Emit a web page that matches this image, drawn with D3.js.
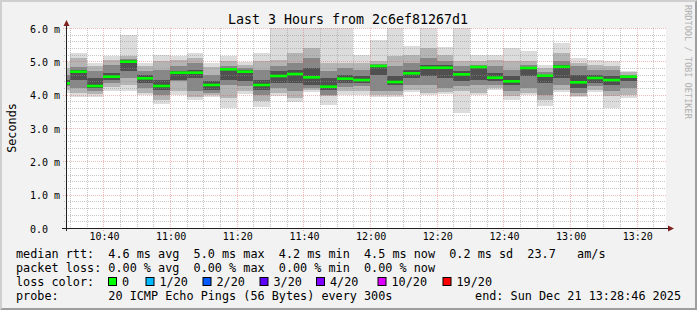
<!DOCTYPE html>
<html><head><meta charset="utf-8">
<script src="https://cdn.jsdelivr.net/npm/d3@7"></script>
<style>
html,body{margin:0;padding:0;background:#f2f2f2;}
svg{display:block;}
text{font-family:"DejaVu Sans Mono",monospace;white-space:pre;}
</style></head><body>
<svg id="c" width="697" height="310"></svg>
<script>
// ---------------- DATA ----------------
const startTime = "10:28:46";
const endTime   = "13:28:46";
// 5-minute slots (start of each slot); the first one is partly before the window
const slotStart = ["10:25","10:30","10:35","10:40","10:45","10:50","10:55","11:00","11:05","11:10",
                   "11:15","11:20","11:25","11:30","11:35","11:40","11:45","11:50","11:55","12:00",
                   "12:05","12:10","12:15","12:20","12:25","12:30","12:35","12:40","12:45","12:50",
                   "12:55","13:00","13:05","13:10","13:15"];
// median rtt (ms)
const median = [4.34,4.69,4.26,4.54,4.99,4.49,4.26,4.66,4.66,4.29,
                 4.76,4.69,4.29,4.56,4.62,4.52,4.24,4.48,4.44,4.86,
                 4.38,4.64,4.81,4.81,4.61,4.83,4.51,4.40,4.80,4.57,
                 4.84,4.37,4.50,4.44,4.54];
// smoke: sorted ping spread (ms), outer to inner
const pMin   = [4.04,3.94,3.94,4.12,4.12,3.98,3.73,3.98,3.85,3.93,
                3.59,4.03,3.64,3.96,3.79,4.09,3.69,3.99,3.98,3.92,
                3.94,4.08,3.99,4.03,3.46,3.98,4.14,3.84,3.98,3.66,
                4.08,3.92,4.09,3.59,3.89];
const pLow1  = [4.15,4.04,4.02,4.22,4.30,4.05,3.85,4.10,3.92,3.98,
                3.90,4.10,3.80,4.05,3.90,4.15,3.95,4.12,4.10,4.00,
                4.00,4.15,4.05,4.08,4.10,4.05,4.20,3.95,4.05,3.85,
                4.15,3.97,4.15,3.95,4.00];
const pLow2  = [4.25,4.19,4.10,4.35,4.50,4.20,4.00,4.40,4.10,4.05,
                4.30,4.25,4.00,4.20,4.10,4.20,4.00,4.24,4.25,4.10,
                4.10,4.30,4.30,4.20,4.25,4.30,4.30,4.10,4.20,4.00,
                4.30,4.05,4.25,4.10,4.20];
const pLow3  = [4.30,4.44,4.20,4.45,4.72,4.35,4.15,4.45,4.50,4.15,
                4.45,4.40,4.15,4.35,4.35,4.30,4.15,4.34,4.35,4.60,
                4.30,4.50,4.55,4.50,4.40,4.45,4.40,4.30,4.55,4.35,
                4.50,4.20,4.35,4.30,4.40];
const pHigh3 = [4.45,4.74,4.50,4.65,5.03,4.60,4.45,4.72,4.75,4.40,
                4.80,4.73,4.45,4.70,4.75,4.80,4.50,4.60,4.55,4.88,
                4.55,4.75,4.90,4.88,4.70,4.86,4.65,4.55,4.83,4.60,
                4.90,4.60,4.60,4.55,4.57];
const pHigh2 = [4.60,4.84,4.70,4.90,5.08,4.70,4.75,4.85,4.95,4.60,
                4.87,4.80,4.75,4.85,4.95,5.10,4.70,4.79,4.75,4.92,
                4.85,4.95,5.10,5.00,4.85,4.90,4.85,4.75,4.88,4.68,
                5.00,4.85,4.75,4.75,4.60];
const pHigh1 = [4.80,5.09,4.85,5.05,5.15,4.85,5.00,5.05,5.10,4.82,
                5.00,4.90,5.00,5.05,5.25,5.40,4.95,4.94,4.95,5.00,
                5.15,5.20,5.40,5.20,5.00,5.00,5.05,5.00,5.00,4.80,
                5.25,4.95,4.90,4.85,4.67];
const pMax   = [4.99,5.26,4.96,5.17,5.78,4.94,5.20,5.15,5.25,4.94,
                5.17,4.98,5.24,6.20,6.20,6.20,6.20,6.20,5.19,5.64,
                5.99,5.46,6.00,5.44,6.10,5.19,5.19,5.39,5.31,4.89,
                5.56,5.09,5.04,5.02,4.72];
const yTicks = [0,1,2,3,4,5,6];
const xTickLabels = ["10:40","11:00","11:20","11:40","12:00","12:20","12:40","13:00","13:20"];
const lossLabels = ["0","1/20","2/20","3/20","4/20","10/20","19/20"];
const lossColors = ["#00ff00","#00b8ff","#0059ff","#5e00ff","#7e00ff","#dd00ff","#ff0000"];
const legendLines = [
  "median rtt:  4.6 ms avg  5.0 ms max  4.2 ms min  4.5 ms now  0.2 ms sd  23.7   am/s",
  "packet loss: 0.00 % avg  0.00 % max  0.00 % min  0.00 % now",
  "loss color:",
  "probe:       20 ICMP Echo Pings (56 Bytes) every 300s"
];
const endLabel = "end: Sun Dec 21 13:28:46 2025";
const titleText = "Last 3 Hours from 2c6ef81267d1";

// ---------------- LAYOUT ----------------
const W = 697, H = 310;
const P = {l:66, r:666, t:28, b:228};
const svg = d3.select("#c");
const parseT = d3.utcParse("%H:%M:%S");
const t = s => parseT(s.length === 5 ? s + ":00" : s);
const x = d3.scaleUtc().domain([t(startTime), t(endTime)]).range([P.l, P.r]);
const y = d3.scaleLinear().domain([0, 6]).range([P.b, P.t]);
const px = v => Math.round(v) + 0.5;
const FS = "11.8px";

// background + 3D frame
svg.append("rect").attr("width", W).attr("height", H).attr("fill", "#f2f2f2");
svg.append("path").attr("d", `M0,0H${W}L${W-2},2H2V${H-2}L0,${H}Z`).attr("fill", "#cfcfcf");
svg.append("path").attr("d", `M${W},0V${H}H0L2,${H-2}H${W-2}V2Z`).attr("fill", "#9e9e9e");

// canvas
svg.append("rect").attr("x", P.l).attr("y", P.t).attr("width", P.r - P.l).attr("height", P.b - P.t).attr("fill", "#fff");

svg.append("defs").append("clipPath").attr("id", "plot")
  .append("rect").attr("x", P.l).attr("y", P.t).attr("width", P.r - P.l).attr("height", P.b - P.t);

const bars = slotStart.map((s, i) => {
  const a = t(s), b = d3.utcMinute.offset(a, 5);
  return {x0: Math.max(P.l, Math.round(x(a))), x1: Math.round(x(b)), i};
});

// smoke
const levels = [
  {lo: pMin,  hi: pMax,   c: "#dcdcdc"},
  {lo: pLow1, hi: pHigh1, c: "#b4b4b4"},
  {lo: pLow2, hi: pHigh2, c: "#878787"},
  {lo: pLow3, hi: pHigh3, c: "#505050"}
];
const gSmoke = svg.append("g").attr("clip-path", "url(#plot)");
levels.forEach(L => {
  gSmoke.append("g").selectAll("rect").data(bars).join("rect")
    .attr("x", d => d.x0).attr("width", d => d.x1 - d.x0)
    .attr("y", d => Math.round(y(L.hi[d.i])))
    .attr("height", d => Math.round(y(L.lo[d.i])) - Math.round(y(L.hi[d.i])))
    .attr("fill", L.c);
});

// grid (drawn over the graph, like rrdtool)
const gGrid = svg.append("g");
const minorY = d3.range(1, 30).map(k => k * 0.2).filter(v => Math.abs(v - Math.round(v)) > 1e-6);
const allMin = d3.utcMinute.every(5).range(t("10:30"), t(endTime));
const majorX = xTickLabels.map(t);
const minorX = allMin.filter(d => d.getUTCMinutes() % 20 !== 0);
const gridC = "rgba(143,143,143,0.5)", mgridC = "rgba(222,79,79,0.38)";
gGrid.append("g").selectAll("line").data(minorY).join("line")
  .attr("x1", P.l - 2).attr("x2", P.r).attr("y1", d => px(y(d))).attr("y2", d => px(y(d)))
  .attr("stroke", gridC).attr("stroke-dasharray", "1,1");
gGrid.append("g").selectAll("line").data(minorX).join("line")
  .attr("y1", P.t).attr("y2", P.b + 2).attr("x1", d => px(x(d))).attr("x2", d => px(x(d)))
  .attr("stroke", gridC).attr("stroke-dasharray", "1,1");
gGrid.append("g").selectAll("line").data(yTicks.slice(1)).join("line")
  .attr("x1", P.l - 3).attr("x2", P.r).attr("y1", d => px(y(d))).attr("y2", d => px(y(d)))
  .attr("stroke", mgridC).attr("stroke-dasharray", "1,1");
gGrid.append("g").selectAll("line").data(majorX).join("line")
  .attr("y1", P.t).attr("y2", P.b + 3).attr("x1", d => px(x(d))).attr("x2", d => px(x(d)))
  .attr("stroke", mgridC).attr("stroke-dasharray", "1,1");

// median lines
svg.append("g").attr("clip-path", "url(#plot)").selectAll("rect").data(bars).join("rect")
  .attr("x", d => d.x0).attr("width", d => d.x1 - d.x0)
  .attr("y", d => y(median[d.i]) - 1.3).attr("height", 2.6)
  .attr("fill", "#00ff00");

// axes lines + arrows
const axisC = "#1f1f1f", arrowC = "#801f1f";
svg.append("line").attr("x1", P.l - 4).attr("x2", P.r + 3).attr("y1", P.b + 0.5).attr("y2", P.b + 0.5).attr("stroke", axisC);
svg.append("line").attr("x1", P.l + 0.5).attr("x2", P.l + 0.5).attr("y1", P.b + 3).attr("y2", P.t - 4).attr("stroke", axisC);
svg.append("path").attr("d", `M${P.l+0.5},${P.t-8}L${P.l+3.5},${P.t-2}L${P.l-2.5},${P.t-2}Z`).attr("fill", arrowC);
svg.append("path").attr("d", `M${P.r+8},${P.b+0.5}L${P.r+2},${P.b-2.5}L${P.r+2},${P.b+3.5}Z`).attr("fill", arrowC);

// axis labels via d3 axes
const yAxis = d3.axisLeft(y).tickValues(yTicks).tickSize(0)
  .tickFormat(v => v === 0 ? "0.0" : v.toFixed(1) + " m");
const gy = svg.append("g").attr("transform", `translate(${P.l},0.5)`).call(yAxis);
gy.select(".domain").remove();
gy.selectAll("text").attr("x", 30 - P.l).attr("dy", "0.35em").attr("text-anchor", "start")
  .attr("font-family", "DejaVu Sans Mono").attr("font-size", "10px").attr("fill", "#000");

const xAxis = d3.axisBottom(x).tickValues(majorX).tickSize(0).tickFormat(d3.utcFormat("%H:%M"));
const gx = svg.append("g").attr("transform", `translate(0.5,${P.b})`).call(xAxis);
gx.select(".domain").remove();
gx.selectAll("text").attr("y", 5).attr("font-family", "DejaVu Sans Mono").attr("font-size", "10px").attr("fill", "#000");

// title
svg.append("text").attr("x", 348).attr("y", 24).attr("text-anchor", "middle")
  .attr("font-size", "13.3px").attr("fill", "#000").text(titleText);

// y label
svg.append("text").attr("transform", "translate(15.5,128) rotate(-90)").attr("text-anchor", "middle")
  .attr("font-size", FS).attr("fill", "#000").text("Seconds");

// watermark
svg.append("text").attr("transform", "translate(685,5) rotate(90)")
  .attr("font-size", "8.6px").attr("fill", "#b0b0b0").text("RRDTOOL / TOBI OETIKER");

// legend
const baseY = [258, 272, 286, 300];
svg.append("g").selectAll("text").data(legendLines).join("text")
  .attr("x", 16).attr("y", (d, i) => baseY[i]).attr("font-size", FS).attr("fill", "#000")
  .attr("xml:space", "preserve").text(d => d);
svg.append("text").attr("x", 681).attr("y", baseY[3]).attr("text-anchor", "end").attr("font-size", FS).attr("fill", "#000")
  .attr("xml:space", "preserve").text(endLabel);

const boxX = [108, 145.5, 202.5, 259.5, 316, 377.5, 442.5];
const gl = svg.append("g");
lossLabels.forEach((lab, i) => {
  gl.append("rect").attr("x", boxX[i] + 0.5).attr("y", 277.5).attr("width", 8).attr("height", 8)
    .attr("fill", lossColors[i]).attr("stroke", "#000").attr("stroke-width", 1);
  gl.append("text").attr("x", boxX[i] + 14).attr("y", baseY[2]).attr("font-size", FS)
    .attr("fill", "#000").text(lab);
});
</script>
</body></html>
